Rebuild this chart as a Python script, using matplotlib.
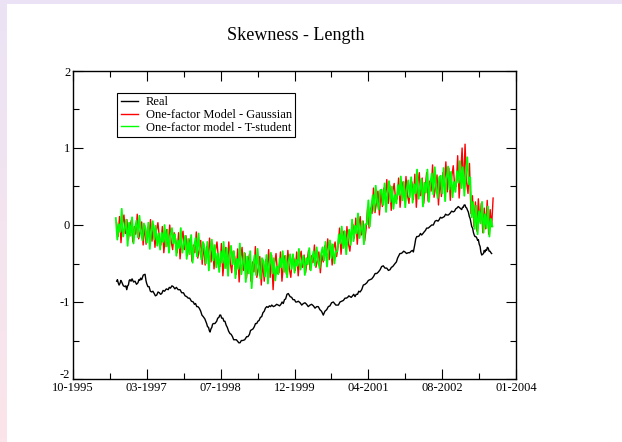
import numpy as np
import matplotlib
matplotlib.use("Agg")
import matplotlib.pyplot as plt
import matplotlib.transforms as mtransforms
from matplotlib.colors import LinearSegmentedColormap

# x values are days counted from 10-1995
tick_days = [0, 500, 1000, 1500, 2000, 2500, 3000]
tick_labels = ["10-1995", "03-1997", "07-1998", "12-1999", "04-2001", "08-2002", "01-2004"]

real_days = [296, 301, 306, 312, 318, 324, 330, 341, 352, 358, 364, 370, 375, 381, 386, 393,
             400, 410, 420, 430, 440, 446, 452, 458, 465, 476, 488, 494, 499, 507, 515, 524,
             533, 541, 550, 558, 567, 576, 585, 593, 601, 610, 620, 632, 645, 652, 660, 670,
             679, 690, 700, 712, 725, 736, 748, 759, 770, 780, 790, 802, 815, 822, 830, 838,
             846, 855, 865, 873, 882, 893, 905, 911, 918, 923, 928, 934, 940, 945, 950, 961,
             973, 980, 988, 994, 1000, 1007, 1015, 1022, 1029, 1037, 1045, 1054, 1063, 1071,
             1080, 1088, 1097, 1106, 1115, 1123, 1131, 1140, 1150, 1163, 1176, 1185, 1195,
             1202, 1210, 1219, 1228, 1236, 1244, 1252, 1260, 1269, 1278, 1286, 1295, 1303,
             1312, 1321, 1330, 1338, 1346, 1357, 1368, 1379, 1390, 1399, 1408, 1416, 1424,
             1432, 1440, 1449, 1458, 1470, 1481, 1490, 1500, 1508, 1515, 1526, 1538, 1549,
             1560, 1571, 1582, 1593, 1605, 1616, 1628, 1639, 1650, 1661, 1672, 1683, 1695,
             1706, 1718, 1729, 1740, 1751, 1763, 1780, 1797, 1808, 1820, 1831, 1842, 1851,
             1860, 1868, 1876, 1884, 1893, 1901, 1910, 1918, 1927, 1935, 1944, 1955, 1966,
             1978, 1990, 2000, 2011, 2023, 2035, 2046, 2057, 2068, 2080, 2090, 2101, 2113,
             2125, 2136, 2147, 2156, 2165, 2173, 2181, 2190, 2198, 2206, 2214, 2222, 2230,
             2239, 2248, 2259, 2270, 2280, 2290, 2298, 2305, 2310, 2315, 2321, 2328, 2336,
             2345, 2353, 2361, 2370, 2378, 2387, 2395, 2406, 2418, 2429, 2440, 2452, 2463,
             2472, 2480, 2488, 2497, 2506, 2515, 2523, 2531, 2542, 2553, 2564, 2575, 2584,
             2592, 2600, 2609, 2620, 2632, 2638, 2643, 2649, 2655, 2660, 2666, 2672, 2677,
             2684, 2690, 2695, 2700, 2706, 2712, 2717, 2722, 2728, 2735, 2740, 2745, 2751,
             2757, 2762, 2768, 2774, 2780, 2785, 2790, 2796, 2801, 2806, 2812, 2818, 2824,
             2830, 2835]
real_vals = [-0.73, -0.71, -0.75, -0.78, -0.76, -0.72, -0.74, -0.79, -0.80, -0.79, -0.84,
             -0.79, -0.78, -0.72, -0.71, -0.73, -0.70, -0.74, -0.73, -0.77, -0.75, -0.71,
             -0.72, -0.69, -0.71, -0.65, -0.64, -0.72, -0.76, -0.80, -0.80, -0.86, -0.87,
             -0.86, -0.89, -0.92, -0.91, -0.87, -0.88, -0.90, -0.89, -0.85, -0.86, -0.83,
             -0.84, -0.81, -0.82, -0.79, -0.80, -0.83, -0.81, -0.84, -0.84, -0.88, -0.88,
             -0.92, -0.93, -0.95, -0.95, -0.99, -1.00, -1.03, -1.02, -1.06, -1.06, -1.08,
             -1.12, -1.17, -1.19, -1.22, -1.28, -1.32, -1.33, -1.37, -1.39, -1.35, -1.33,
             -1.29, -1.28, -1.28, -1.25, -1.21, -1.20, -1.17, -1.17, -1.21, -1.21, -1.25,
             -1.25, -1.30, -1.33, -1.38, -1.41, -1.42, -1.45, -1.49, -1.49, -1.49, -1.51,
             -1.53, -1.53, -1.50, -1.50, -1.49, -1.45, -1.45, -1.42, -1.37, -1.36, -1.35,
             -1.32, -1.28, -1.28, -1.25, -1.24, -1.20, -1.19, -1.14, -1.12, -1.08, -1.06,
             -1.07, -1.05, -1.06, -1.04, -1.06, -1.05, -1.03, -1.04, -1.05, -1.03, -1.00,
             -1.02, -0.97, -0.96, -0.90, -0.89, -0.93, -0.94, -0.97, -0.97, -1.00, -1.00,
             -0.99, -1.01, -1.04, -1.02, -1.01, -1.03, -1.06, -1.04, -1.03, -1.05, -1.08,
             -1.06, -1.06, -1.10, -1.12, -1.17, -1.12, -1.10, -1.06, -1.05, -1.01, -1.00,
             -1.04, -1.04, -1.00, -0.99, -0.98, -0.95, -0.95, -0.94, -0.92, -0.93, -0.94,
             -0.92, -0.90, -0.93, -0.90, -0.90, -0.86, -0.87, -0.84, -0.78, -0.77, -0.75,
             -0.72, -0.71, -0.70, -0.67, -0.63, -0.63, -0.61, -0.58, -0.54, -0.53, -0.56,
             -0.56, -0.59, -0.58, -0.55, -0.54, -0.52, -0.50, -0.48, -0.43, -0.40, -0.37,
             -0.37, -0.36, -0.34, -0.35, -0.37, -0.36, -0.36, -0.34, -0.33, -0.35, -0.30,
             -0.25, -0.18, -0.15, -0.15, -0.14, -0.11, -0.13, -0.11, -0.09, -0.07, -0.04,
             -0.04, -0.02, 0.00, 0.00, 0.05, 0.06, 0.05, 0.07, 0.10, 0.09, 0.10, 0.11, 0.14,
             0.13, 0.13, 0.15, 0.18, 0.17, 0.18, 0.21, 0.22, 0.24, 0.22, 0.20, 0.23, 0.23,
             0.26, 0.26, 0.23, 0.22, 0.19, 0.17, 0.11, 0.08, 0.03, -0.02, -0.04, -0.10,
             -0.13, -0.15, -0.15, -0.17, -0.20, -0.19, -0.25, -0.28, -0.35, -0.39, -0.38,
             -0.37, -0.33, -0.35, -0.32, -0.33, -0.29, -0.30, -0.34, -0.34, -0.36, -0.37]

# simulated series, one value every 10 days
gauss_days = np.arange(295, 2846, 10)
gauss_vals = [0.03, -0.15, 0.11, -0.23, 0.01, 0.13, -0.11, 0.07, -0.19, -0.03,
              0.06, -0.22, -0.02, -0.12, 0.14, -0.18, -0.08, 0.04, -0.26, 0.00,
              -0.25, -0.03, -0.15, 0.07, -0.21, 0.01, -0.29, -0.07, 0.03, -0.17,
              -0.26, -0.02, -0.36, -0.16, -0.06, -0.28, 0.00, -0.22, -0.32, -0.10,
              -0.18, -0.36, -0.10, -0.44, -0.20, -0.08, -0.32, -0.14, -0.40, -0.24,
              -0.17, -0.47, -0.26, -0.36, -0.09, -0.43, -0.32, -0.20, -0.51, -0.24,
              -0.52, -0.28, -0.41, -0.17, -0.48, -0.24, -0.57, -0.33, -0.22, -0.44,
              -0.54, -0.24, -0.66, -0.42, -0.29, -0.57, -0.22, -0.49, -0.62, -0.34,
              -0.41, -0.64, -0.31, -0.74, -0.44, -0.29, -0.59, -0.37, -0.69, -0.49,
              -0.38, -0.73, -0.48, -0.61, -0.28, -0.68, -0.56, -0.41, -0.78, -0.46,
              -0.73, -0.45, -0.60, -0.32, -0.68, -0.39, -0.84, -0.50, -0.37, -0.63,
              -0.62, -0.35, -0.73, -0.51, -0.40, -0.64, -0.33, -0.57, -0.68, -0.44,
              -0.43, -0.59, -0.35, -0.66, -0.44, -0.34, -0.55, -0.39, -0.62, -0.48,
              -0.33, -0.58, -0.40, -0.49, -0.26, -0.55, -0.46, -0.35, -0.62, -0.39,
              -0.48, -0.27, -0.39, -0.18, -0.45, -0.24, -0.52, -0.31, -0.22, -0.41,
              -0.28, -0.04, -0.38, -0.18, -0.08, -0.30, -0.02, -0.24, -0.34, -0.12,
              0.01, -0.17, 0.09, -0.25, -0.01, 0.11, -0.13, 0.05, -0.21, -0.05,
              0.23, -0.04, 0.22, 0.15, 0.48, 0.16, 0.29, 0.44, 0.13, 0.43,
              0.24, 0.48, 0.35, 0.59, 0.28, 0.52, 0.19, 0.43, 0.54, 0.32,
              0.34, 0.61, 0.23, 0.45, 0.56, 0.32, 0.63, 0.39, 0.28, 0.52,
              0.56, 0.33, 0.66, 0.23, 0.53, 0.68, 0.38, 0.61, 0.28, 0.48,
              0.68, 0.31, 0.57, 0.44, 0.78, 0.36, 0.49, 0.65, 0.26, 0.60,
              0.37, 0.68, 0.51, 0.82, 0.43, 0.74, 0.32, 0.63, 0.77, 0.49,
              0.50, 0.90, 0.35, 0.65, 1.00, 0.47, 1.05, 0.56, 0.41, 0.80,
              0.15, 0.38, -0.02, 0.30, -0.08, 0.34, 0.05, 0.28, -0.10, 0.22,
              -0.05, 0.32, -0.12, 0.20, -0.02, 0.35]

tstud_days = np.arange(290, 2841, 10)
tstud_vals = [0.09, -0.19, 0.01, -0.09, 0.21, -0.15, -0.05, 0.07, -0.27, 0.03,
              -0.14, 0.10, -0.24, -0.04, 0.06, -0.16, 0.12, -0.10, -0.20, 0.02,
              -0.05, -0.23, 0.03, -0.31, -0.07, 0.05, -0.19, -0.01, -0.27, -0.11,
              -0.32, -0.10, -0.22, 0.00, -0.28, -0.06, -0.36, -0.14, -0.04, -0.24,
              -0.12, -0.40, -0.20, -0.30, -0.04, -0.36, -0.26, -0.14, -0.44, -0.18,
              -0.38, -0.13, -0.49, -0.28, -0.17, -0.41, -0.11, -0.34, -0.45, -0.22,
              -0.30, -0.50, -0.22, -0.59, -0.33, -0.19, -0.46, -0.26, -0.55, -0.37,
              -0.61, -0.34, -0.49, -0.22, -0.56, -0.30, -0.66, -0.39, -0.27, -0.51,
              -0.34, -0.69, -0.44, -0.57, -0.24, -0.64, -0.51, -0.36, -0.74, -0.41,
              -0.63, -0.34, -0.82, -0.51, -0.39, -0.65, -0.31, -0.58, -0.70, -0.43,
              -0.47, -0.67, -0.39, -0.76, -0.50, -0.36, -0.63, -0.43, -0.72, -0.54,
              -0.64, -0.43, -0.55, -0.34, -0.61, -0.40, -0.68, -0.47, -0.38, -0.57,
              -0.38, -0.62, -0.45, -0.53, -0.31, -0.58, -0.50, -0.40, -0.65, -0.43,
              -0.51, -0.30, -0.59, -0.42, -0.34, -0.53, -0.29, -0.47, -0.56, -0.37,
              -0.29, -0.46, -0.22, -0.54, -0.31, -0.20, -0.43, -0.25, -0.50, -0.35,
              -0.34, -0.12, -0.24, -0.02, -0.30, -0.08, -0.38, -0.16, -0.06, -0.26,
              0.07, -0.21, -0.01, -0.11, 0.15, -0.17, -0.07, 0.05, -0.25, 0.01,
              0.01, 0.32, -0.02, 0.24, 0.39, 0.18, 0.51, 0.29, 0.20, 0.45,
              0.46, 0.26, 0.54, 0.17, 0.43, 0.57, 0.30, 0.50, 0.21, 0.39,
              0.28, 0.52, 0.39, 0.63, 0.32, 0.56, 0.23, 0.47, 0.58, 0.36,
              0.62, 0.29, 0.53, 0.41, 0.72, 0.34, 0.46, 0.60, 0.24, 0.55,
              0.42, 0.72, 0.30, 0.55, 0.67, 0.40, 0.75, 0.47, 0.35, 0.62,
              0.64, 0.41, 0.74, 0.31, 0.61, 0.76, 0.46, 0.69, 0.36, 0.56,
              0.43, 0.70, 0.55, 0.83, 0.48, 0.75, 0.38, 0.65, 0.88, 0.53,
              0.62, 0.10, 0.30, -0.05, 0.25, -0.12, 0.18, 0.02, 0.30, -0.10,
              0.14, -0.04, 0.24, -0.15, 0.08, -0.02]

fig = plt.figure(figsize=(6.22, 4.42), dpi=100, facecolor="white")

# slide frame: lavender strip on top, lavender-to-pink strip on the left
frame_cmap = LinearSegmentedColormap.from_list("frame", ["#ebe3f5", "#fbe5ea"])
left = fig.add_axes([0, 0, 6 / 622, 1])
left.imshow(np.linspace(0, 1, 100).reshape(-1, 1), aspect="auto", cmap=frame_cmap)
left.axis("off")
top = fig.add_axes([0, 1 - 4 / 442, 1, 4 / 442])
top.set_facecolor("#ebe3f5")
top.set_xticks([])
top.set_yticks([])
for s in top.spines.values():
    s.set_visible(False)

serif = "Liberation Serif"
ax = fig.add_axes([73 / 622, 1 - 379 / 442, 443 / 622, 308 / 442])

ax.plot(gauss_days, gauss_vals, color="#ff0000", lw=1.0, label="One-factor Model - Gaussian")
ax.plot(tstud_days, tstud_vals, color="#00ff00", lw=1.3, label="One-factor model - T-student")
ax.plot(real_days, real_vals, color="black", lw=1.0, label="Real")

ax.set_xlim(0, 3000)
ax.set_ylim(-2, 2)
ax.set_xticks(tick_days)
ax.set_xticklabels(tick_labels, fontfamily=serif, fontsize=9)
ax.set_xticks([250, 750, 1250, 1750, 2250, 2750], minor=True)
ax.set_yticks([-2, -1, 0, 1, 2])
ax.set_yticklabels(["-2", "-1", "0", "1", "2"], fontfamily=serif, fontsize=9)
ax.set_yticks([-1.5, -0.5, 0.5, 1.5], minor=True)
ax.tick_params(which="both", direction="in", top=True, right=True, width=0.8)
ax.tick_params(which="major", length=7, pad=2)
ax.tick_params(which="minor", length=4)
for s in ax.spines.values():
    s.set_linewidth(1.0)

# lift the bottom y label a little, as in the original, so it clears 10-1995
lbl = ax.get_yticklabels()[0]
lbl.set_transform(lbl.get_transform() + mtransforms.ScaledTranslation(0, 4 / 72, fig.dpi_scale_trans))

handles, labels = ax.get_legend_handles_labels()
order = [2, 0, 1]
leg = ax.legend([handles[i] for i in order], [labels[i] for i in order],
                loc="upper left", bbox_to_anchor=(0.099, 0.93), borderaxespad=0,
                prop={"family": serif, "size": 9}, fancybox=False, framealpha=1,
                edgecolor="black", handlelength=1.4, handletextpad=0.6,
                labelspacing=0.05, borderpad=0.3)
leg.get_frame().set_linewidth(0.8)
for line in leg.get_lines():
    line.set_linewidth(1.0)

fig.text(296 / 622, 1 - 35 / 442, "Skewness - Length", ha="center", va="center",
         fontfamily=serif, fontsize=13)

fig.savefig("out.png", dpi=100, facecolor="white")
